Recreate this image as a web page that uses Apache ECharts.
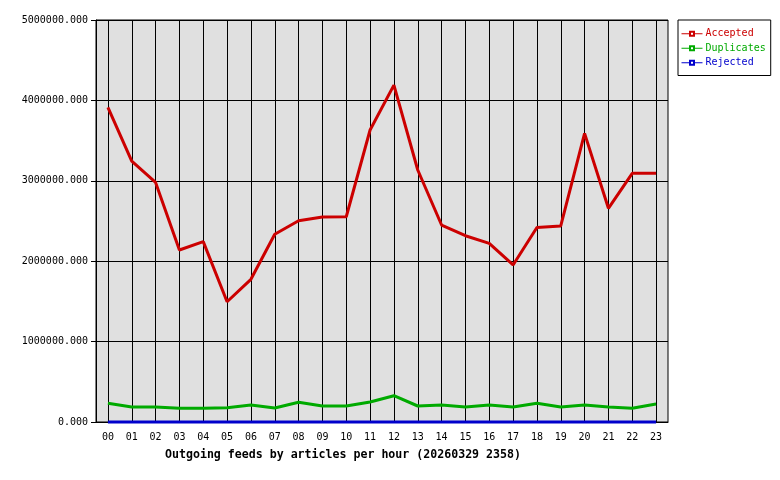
<!DOCTYPE html>
<html>
<head>
<meta charset="utf-8">
<script src="https://cdn.jsdelivr.net/npm/echarts@6/dist/echarts.min.js"></script>
<style>
  body { margin: 0; background: #fff; }
  #chart { width: 780px; height: 480px; }
</style>
</head>
<body>
<div id="chart"></div>
<script>
// hours on the x axis
var hours = ['00','01','02','03','04','05','06','07','08','09','10','11',
             '12','13','14','15','16','17','18','19','20','21','22','23'];

// articles per hour
var accepted = [3914000, 3246000, 2980000, 2139000, 2243000, 1496000, 1775000, 2335000,
                2504000, 2550000, 2553000, 3632000, 4190000, 3134000, 2450000, 2317000,
                2222000, 1953000, 2420000, 2438000, 3590000, 2658000, 3093000, 3093000];
var duplicates = [232000, 187000, 187000, 170000, 170000, 178000, 211000, 174000,
                  245000, 199000, 199000, 249000, 327000, 199000, 211000, 187000,
                  211000, 187000, 232000, 187000, 211000, 187000, 170000, 224000];
var rejected = [0, 0, 0, 0, 0, 0, 0, 0, 0, 0, 0, 0,
                0, 0, 0, 0, 0, 0, 0, 0, 0, 0, 0, 0];

var seriesNames = ['Accepted', 'Duplicates', 'Rejected'];
var seriesColors = ['#cc0000', '#00aa00', '#0000cc'];
var yTicks = [0, 1000000, 2000000, 3000000, 4000000, 5000000];

var mono = '"DejaVu Sans Mono", "Liberation Mono", monospace';

var chart = echarts.init(document.getElementById('chart'));

function makeSeries(i, data) {
  return {
    name: seriesNames[i],
    type: 'line',
    data: data,
    symbol: 'emptyRect',
    symbolSize: 4,
    showSymbol: false,
    clip: false,
    lineStyle: { color: seriesColors[i], width: 3 },
    itemStyle: { color: seriesColors[i] },
    animation: false
  };
}

var option = {
  animation: false,
  title: {
    text: 'Outgoing feeds by articles per hour (20260329 2358)',
    left: 160,
    top: 444,
    textStyle: { fontFamily: mono, fontSize: 11.6, fontWeight: 'bold', color: '#000' }
  },
  legend: {
    orient: 'vertical',
    left: 678,
    top: 20,
    padding: [8, 5, 7, 3],
    itemGap: 3,
    itemWidth: 21,
    itemHeight: 5,
    backgroundColor: '#fff',
    borderColor: '#000',
    borderWidth: 1,
    borderRadius: 0,
    lineStyle: { width: 1 },
    itemStyle: { borderWidth: 1 },
    textStyle: { fontFamily: mono, fontSize: 10, lineHeight: 11.5, padding: [0, 0, 0, -2] },
    data: seriesNames.map(function (n, i) {
      return { name: n, textStyle: { color: seriesColors[i] } };
    })
  },
  grid: {
    left: 96,
    right: 112,
    top: 20,
    bottom: 58,
    show: true,
    backgroundColor: '#e0e0e0',
    borderColor: '#000',
    borderWidth: 1
  },
  xAxis: {
    type: 'category',
    data: hours,
    boundaryGap: true,
    axisLine: { lineStyle: { color: '#000', width: 1 } },
    axisTick: { show: false },
    axisLabel: { color: '#000', fontFamily: mono, fontSize: 10, margin: 10 },
    splitLine: { show: true, alignWithLabel: true, lineStyle: { color: '#000', width: 1 } }
  },
  yAxis: {
    type: 'value',
    min: yTicks[0],
    max: yTicks[yTicks.length - 1],
    interval: yTicks[1] - yTicks[0],
    axisLine: { show: true, lineStyle: { color: '#000', width: 1 } },
    axisTick: { show: true, length: 5, lineStyle: { color: '#000' } },
    axisLabel: {
      color: '#000', fontFamily: mono, fontSize: 10, margin: 8,
      formatter: function (v) { return v.toFixed(3); }
    },
    splitLine: { show: true, lineStyle: { color: '#000', width: 1 } }
  },
  series: [
    makeSeries(2, rejected),
    makeSeries(1, duplicates),
    makeSeries(0, accepted)
  ]
};

chart.setOption(option);
</script>
</body>
</html>
